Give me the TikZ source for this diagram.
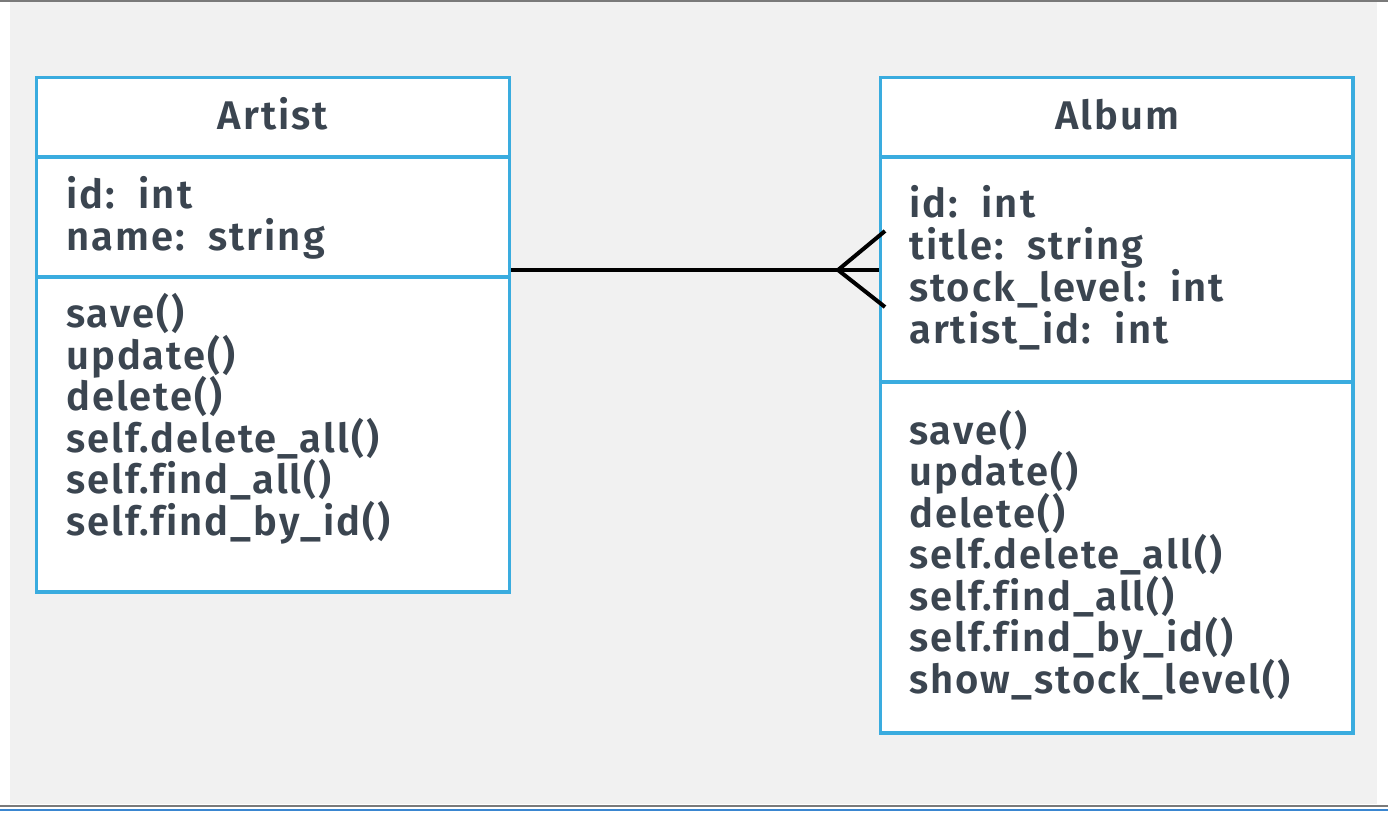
\documentclass[tikz,border=0pt]{standalone}
\usepackage{fontspec}
\setmainfont{Fira Sans}[UprightFont={* SemiBold}, Ligatures=NoCommon, LetterSpace=5]
\usepackage[HTML]{xcolor}
\usepackage{tikz}
\usetikzlibrary{positioning}
\definecolor{umlblue}{HTML}{3AACDF}
\definecolor{umltext}{HTML}{3B4550}
\definecolor{bggray}{HTML}{F1F1F1}
\definecolor{rulegray}{HTML}{7A7A7A}
\definecolor{ruleblue}{HTML}{3A86D0}
\tikzset{
  classbox/.style={draw=umlblue, line width=3.5pt, fill=white, inner sep=0pt},
  classline/.style={draw=umlblue, line width=3.5pt},
  member/.style={anchor=base west, inner sep=0pt, text=umltext, font=\fontsize{40}{42}\selectfont},
  classtitle/.style={anchor=base, inner sep=0pt, text=umltext, font=\fontsize{40}{42}\selectfont},
  relation/.style={draw=black, line width=4pt}
}
\begin{document}
\begin{tikzpicture}[x=1pt,y=-1pt]
\useasboundingbox (0,0) rectangle (1388,814);
% background
\fill[bggray] (10,0) rectangle (1377,804);
\draw[rulegray, line width=2pt] (0,1) -- (1388,1);
\draw[rulegray, line width=2pt] (0,806) -- (1388,806);
\draw[ruleblue, line width=2pt] (0,810) -- (1388,810);
% class boxes
\node[classbox, minimum width=473pt, minimum height=514.5pt] (artist) at (273,334.75) {};
\node[classbox, minimum width=472.5pt, minimum height=655.5pt] (album) at (1116.75,405.25) {};
\draw[classline] (artist.west |- 0,157) -- (artist.east |- 0,157);
\draw[classline] (artist.west |- 0,277) -- (artist.east |- 0,277);
\draw[classline] (album.west |- 0,157) -- (album.east |- 0,157);
\draw[classline] (album.west |- 0,382) -- (album.east |- 0,382);
% titles
\node[classtitle] (artistname) at (273,129) {Artist};
\node[classtitle] (albumname) at (1117,129) {Album};
% attributes
\node[member] (artista1) at (66,208) {id:~~int};
\node[member] (artista2) at (66,250) {name:~~string};
\foreach \t [count=\i] in {id:~~int, title:~~string, stock\_level:~~int, artist\_id:~~int}{
  \node[member] (albuma\i) at (909,{217+42*(\i-1)}) {\t};
}
% methods
\foreach \t [count=\i] in {save(), update(), delete(), self.delete\_all(), self.find\_all(), self.find\_by\_id()}{
  \node[member] (artistm\i) at (66,{327.5+41.5*(\i-1)}) {\t};
}
\foreach \t [count=\i] in {save(), update(), delete(), self.delete\_all(), self.find\_all(), self.find\_by\_id(), show\_stock\_level()}{
  \node[member] (albumm\i) at (909,{444+41.5*(\i-1)}) {\t};
}
% one-to-many relation
\coordinate (fork) at (838,270);
\coordinate (prongup) at (885,231);
\coordinate (prongdown) at (885,307);
\draw[relation] (artist.east |- fork) -- (album.west |- fork);
\draw[relation] (prongup) -- (fork) -- (prongdown);
\end{tikzpicture}
\end{document}
